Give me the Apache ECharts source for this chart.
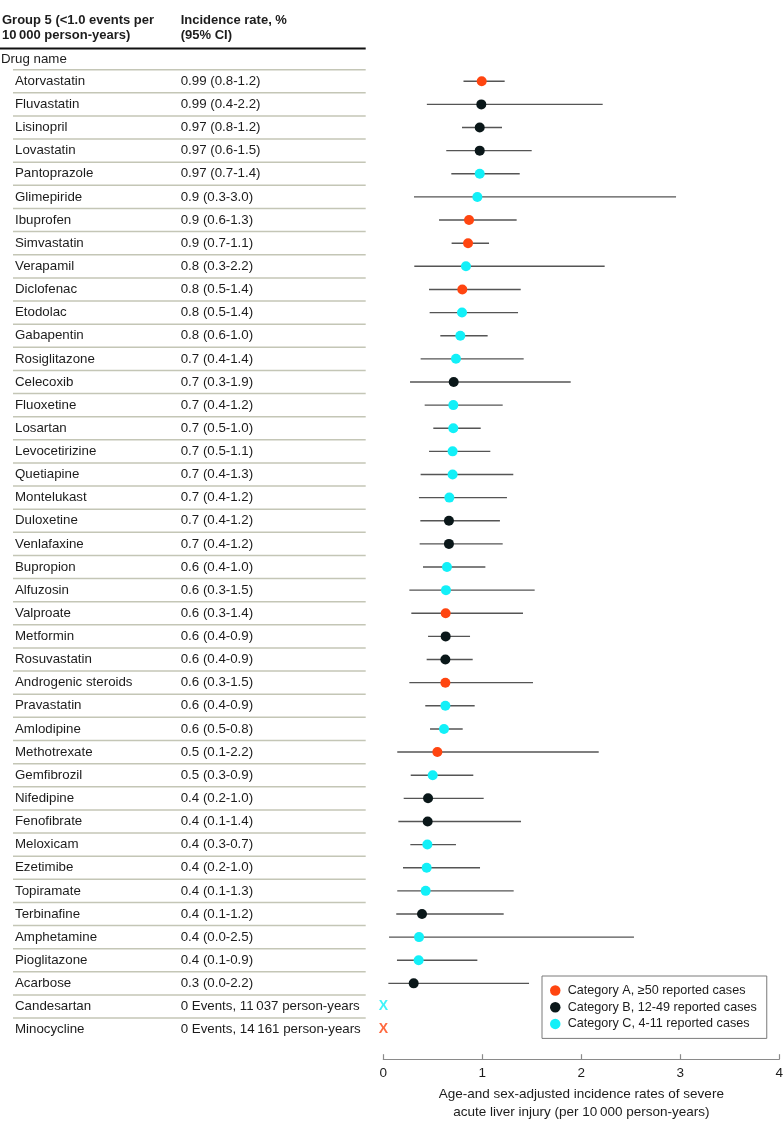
<!DOCTYPE html>
<html>
<head>
<meta charset="utf-8">
<script src="https://cdn.jsdelivr.net/npm/echarts@6/dist/echarts.min.js"></script>
<style>
html,body{margin:0;padding:0;background:#fff;}
#chart{width:783px;height:1128px;}
</style>
</head>
<body>
<div id="chart"></div>
<script>
// ---------- DATA ----------
const drugs = ["Atorvastatin","Fluvastatin","Lisinopril","Lovastatin","Pantoprazole","Glimepiride","Ibuprofen","Simvastatin","Verapamil","Diclofenac","Etodolac","Gabapentin","Rosiglitazone","Celecoxib","Fluoxetine","Losartan","Levocetirizine","Quetiapine","Montelukast","Duloxetine","Venlafaxine","Bupropion","Alfuzosin","Valproate","Metformin","Rosuvastatin","Androgenic steroids","Pravastatin","Amlodipine","Methotrexate","Gemfibrozil","Nifedipine","Fenofibrate","Meloxicam","Ezetimibe","Topiramate","Terbinafine","Amphetamine","Pioglitazone","Acarbose","Candesartan","Minocycline"];
const rateLabels = ["0.99 (0.8-1.2)","0.99 (0.4-2.2)","0.97 (0.8-1.2)","0.97 (0.6-1.5)","0.97 (0.7-1.4)","0.9 (0.3-3.0)","0.9 (0.6-1.3)","0.9 (0.7-1.1)","0.8 (0.3-2.2)","0.8 (0.5-1.4)","0.8 (0.5-1.4)","0.8 (0.6-1.0)","0.7 (0.4-1.4)","0.7 (0.3-1.9)","0.7 (0.4-1.2)","0.7 (0.5-1.0)","0.7 (0.5-1.1)","0.7 (0.4-1.3)","0.7 (0.4-1.2)","0.7 (0.4-1.2)","0.7 (0.4-1.2)","0.6 (0.4-1.0)","0.6 (0.3-1.5)","0.6 (0.3-1.4)","0.6 (0.4-0.9)","0.6 (0.4-0.9)","0.6 (0.3-1.5)","0.6 (0.4-0.9)","0.6 (0.5-0.8)","0.5 (0.1-2.2)","0.5 (0.3-0.9)","0.4 (0.2-1.0)","0.4 (0.1-1.4)","0.4 (0.3-0.7)","0.4 (0.2-1.0)","0.4 (0.1-1.3)","0.4 (0.1-1.2)","0.4 (0.0-2.5)","0.4 (0.1-0.9)","0.3 (0.0-2.2)","0 Events, 11\u2009037 person-years","0 Events, 14\u2009161 person-years"];
// plotted estimates and CI ends (null = no events)
const estimates = [0.994,0.99,0.974,0.974,0.974,0.95,0.866,0.856,0.835,0.798,0.795,0.778,0.734,0.711,0.707,0.707,0.70,0.70,0.667,0.663,0.663,0.643,0.633,0.63,0.63,0.627,0.627,0.627,0.613,0.546,0.499,0.452,0.448,0.445,0.438,0.428,0.391,0.361,0.357,0.307,null,null];
const lowerCI = [0.81,0.44,0.795,0.636,0.687,0.31,0.563,0.69,0.313,0.462,0.468,0.576,0.377,0.27,0.418,0.505,0.462,0.377,0.36,0.374,0.367,0.401,0.263,0.283,0.452,0.438,0.263,0.424,0.472,0.141,0.277,0.206,0.152,0.273,0.199,0.141,0.131,0.058,0.138,0.051,null,null];
const upperCI = [1.226,2.216,1.199,1.499,1.378,2.957,1.347,1.068,2.236,1.388,1.361,1.054,1.418,1.893,1.206,0.984,1.081,1.313,1.249,1.178,1.206,1.031,1.529,1.411,0.876,0.903,1.512,0.923,0.802,2.176,0.909,1.014,1.391,0.734,0.977,1.317,1.216,2.532,0.95,1.472,null,null];
const categories = ["A","B","B","B","C","C","A","A","C","A","C","C","C","B","C","C","C","C","C","B","B","C","C","A","B","B","A","C","C","A","C","B","B","C","C","C","B","C","C","B","C","A"];
const zeroEventValue = 0;
const xTicks = [0,1,2,3,4];
const legendNames = {A:"Category A, \u226550 reported cases", B:"Category B, 12-49 reported cases", C:"Category C, 4-11 reported cases"};
const catColors = {A:"#FF4510", B:"#0A1719", C:"#12F0F8"};

// ---------- CHART ----------
const FONT = "'Liberation Sans',Arial,sans-serif";
const TXT = "#1c1c1c";
const chart = echarts.init(document.getElementById('chart'), null, {renderer:'canvas'});

const gridTop = 69.7, gridBottom = 1128 - 1041.2;

function pointSeries(cat){
  const data = [];
  estimates.forEach((v,i)=>{ if(v!==null && categories[i]===cat) data.push([v,i]); });
  return {
    type:'scatter', name:legendNames[cat], xAxisIndex:0, yAxisIndex:0,
    symbol:'circle', symbolSize:10, z:5,
    itemStyle:{color:catColors[cat], opacity:1},
    data:data
  };
}
const ciData = [];
estimates.forEach((v,i)=>{ if(v!==null) ciData.push([lowerCI[i], upperCI[i], i]); });
const zeroData = [];
estimates.forEach((v,i)=>{ if(v===null) zeroData.push({value:[zeroEventValue,i], label:{color:catColors[categories[i]]}}); });
const rowIdx = drugs.map((d,i)=>[0,i]);

const option = {
  backgroundColor:'#fff',
  animation:false,
  textStyle:{fontFamily:FONT},
  grid:[
    {left:383.3, right:3.7, top:gridTop, bottom:gridBottom, containLabel:false, outerBoundsMode:'none'},
    {left:13, right:783-365.7, top:gridTop, bottom:gridBottom, containLabel:false, outerBoundsMode:'none'}
  ],
  xAxis:[
    {gridIndex:0, type:'value', min:xTicks[0], max:xTicks[xTicks.length-1], interval:1, offset:18,
     axisLine:{show:true, lineStyle:{color:'#8a8a8a', width:1.2}},
     axisTick:{show:true, inside:true, length:5, lineStyle:{color:'#8a8a8a', width:1.2}},
     axisLabel:{color:TXT, fontSize:13.5, margin:7, fontFamily:FONT},
     splitLine:{show:false},
     name:'Age-and sex-adjusted incidence rates of severe\nacute liver injury (per 10\u2009000 person-years)',
     nameLocation:'middle', nameGap:25,
     nameTextStyle:{color:TXT, fontSize:13.5, lineHeight:18, fontFamily:FONT}
    },
    {gridIndex:1, type:'value', min:0, max:1, show:false}
  ],
  yAxis:[
    {gridIndex:0, type:'category', inverse:true, data:drugs, show:false},
    {gridIndex:1, type:'category', inverse:true, data:drugs, position:'left',
     axisLine:{show:false}, axisTick:{show:false}, splitLine:{show:false},
     axisLabel:{show:true, interval:0, align:'left', margin:-2, color:TXT, fontSize:13.3, fontFamily:FONT}
    },
    {gridIndex:1, type:'category', inverse:true, data:rateLabels, position:'right',
     axisLine:{show:false}, axisTick:{show:false}, splitLine:{show:false},
     axisLabel:{show:true, interval:0, align:'left', margin:-185, color:TXT, fontSize:13.3, fontFamily:FONT}
    }
  ],
  legend:{
    orient:'vertical', left:542, top:976,
    padding:[7,10,7,8], itemGap:1.7, itemWidth:15, itemHeight:10.5,
    icon:'circle', borderColor:'#7a7a7a', borderWidth:1, backgroundColor:'#fff',
    textStyle:{color:TXT, fontSize:12.6, lineHeight:15, fontFamily:FONT},
    data:[legendNames.A, legendNames.B, legendNames.C]
  },
  series:[
    // table row separator lines
    {type:'custom', xAxisIndex:1, yAxisIndex:1, z:1, silent:true,
     encode:{x:0, y:1},
     renderItem:function(params, api){
       const c = api.coord([0, api.value(1)]);
       const h = api.size([0, 1])[1];
       const y = c[1] - h/2;
       const x2 = api.coord([1, api.value(1)])[0];
       return {type:'line', shape:{x1:c[0], y1:y, x2:x2, y2:y},
               style:{stroke:'#c4c6b6', lineWidth:1.5}};
     },
     data:rowIdx},
    {type:'custom', xAxisIndex:0, yAxisIndex:0, z:2, silent:true,
     encode:{x:[0,1], y:2},
     renderItem:function(params, api){
       const p1 = api.coord([api.value(0), api.value(2)]);
       const p2 = api.coord([api.value(1), api.value(2)]);
       return {type:'line', shape:{x1:p1[0], y1:p1[1], x2:p2[0], y2:p2[1]},
               style:{stroke:'#555', lineWidth:1.4}};
     },
     data:ciData},
    pointSeries('A'), pointSeries('B'), pointSeries('C'),
    {type:'scatter', xAxisIndex:0, yAxisIndex:0, symbolSize:2, z:6, silent:true,
     itemStyle:{color:'rgba(0,0,0,0)'},
     label:{show:true, position:'inside', formatter:'X', fontSize:14, fontWeight:'bold', fontFamily:FONT},
     data:zeroData}
  ],
  graphic:[
    {type:'text', left:2, top:12.5, style:{text:'Group 5 (<1.0 events per\n10\u2009000 person-years)', fill:TXT, font:'bold 13px '+FONT, lineHeight:15.5}},
    {type:'text', left:180.7, top:12.5, style:{text:'Incidence rate, %\n(95% CI)', fill:TXT, font:'bold 13px '+FONT, lineHeight:15.5}},
    {type:'line', shape:{x1:0, y1:48.5, x2:365.7, y2:48.5}, style:{stroke:'#111', lineWidth:2}},
    {type:'text', left:1, top:53, style:{text:'Drug name', fill:TXT, font:'13.3px '+FONT}}
  ]
};
chart.setOption(option);
</script>
</body>
</html>
